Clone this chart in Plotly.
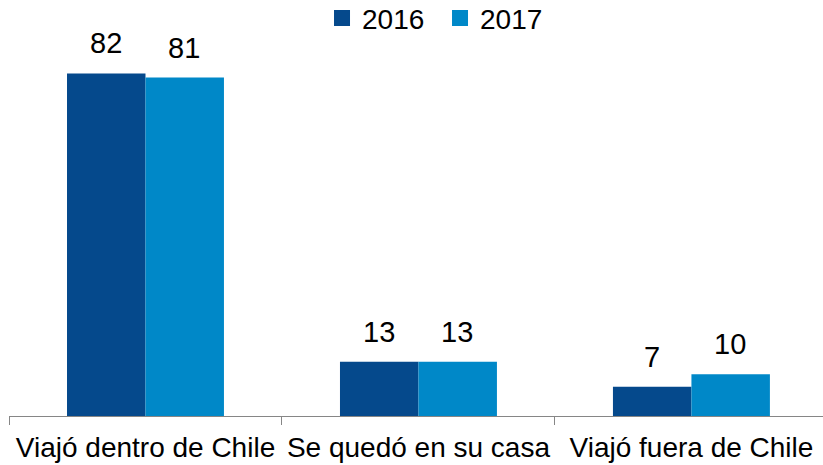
import plotly.graph_objects as go

categories = ["Viajó dentro de Chile", "Se quedó en su casa", "Viajó fuera de Chile"]
years = ["2016", "2017"]
values_2016 = [82, 13, 7]
values_2017 = [81, 13, 10]
colors = ["#05498C", "#0088C8"]

FONT = "Liberation Sans, Arial, sans-serif"

fig = go.Figure()
for name, vals, col in zip(years, [values_2016, values_2017], colors):
    fig.add_trace(go.Bar(
        x=categories, y=vals, name=name, marker_color=col,
        marker_line_width=0, showlegend=False,
    ))
# legend entries with larger square markers
for name, col in zip(years, colors):
    fig.add_trace(go.Scatter(
        x=[None], y=[None], mode="markers", name=name,
        marker=dict(symbol="square", size=16, color=col),
    ))

# data labels above bars
BAR_PX = 78
for j, vals in enumerate([values_2016, values_2017]):
    for cat, v in zip(categories, vals):
        fig.add_annotation(
            x=cat, y=v, text=str(v), showarrow=False,
            xshift=(j - 0.5) * BAR_PX, yshift=12, yanchor="bottom",
            font=dict(size=29, color="#000000", family=FONT),
        )

fig.update_layout(
    width=823, height=465,
    margin=dict(l=9, r=0, t=40, b=49, autoexpand=False),
    paper_bgcolor="white", plot_bgcolor="white",
    barmode="group", bargap=0.425, bargroupgap=0,
    font=dict(family=FONT, size=28, color="#000000"),
    legend=dict(orientation="h", x=0.5295, xanchor="center", y=1.124, yanchor="top",
                yref="paper", font=dict(size=28), itemwidth=30,
                entrywidth=73, entrywidthmode="pixels",
                tracegroupgap=0, bgcolor="rgba(0,0,0,0)"),
)
fig.update_xaxes(
    type="category", range=[-0.5, 2.482],
    showline=True, linecolor="#868686", linewidth=1,
    ticks="outside", tickson="boundaries", ticklen=8, tickcolor="#868686",
    tickfont=dict(size=28, family=FONT, color="#000000"),
    ticklabelstandoff=6,
    showgrid=False, zeroline=False,
)
fig.update_yaxes(range=[0, 90], visible=False, showgrid=False, zeroline=False)

fig.write_html("out.html")
